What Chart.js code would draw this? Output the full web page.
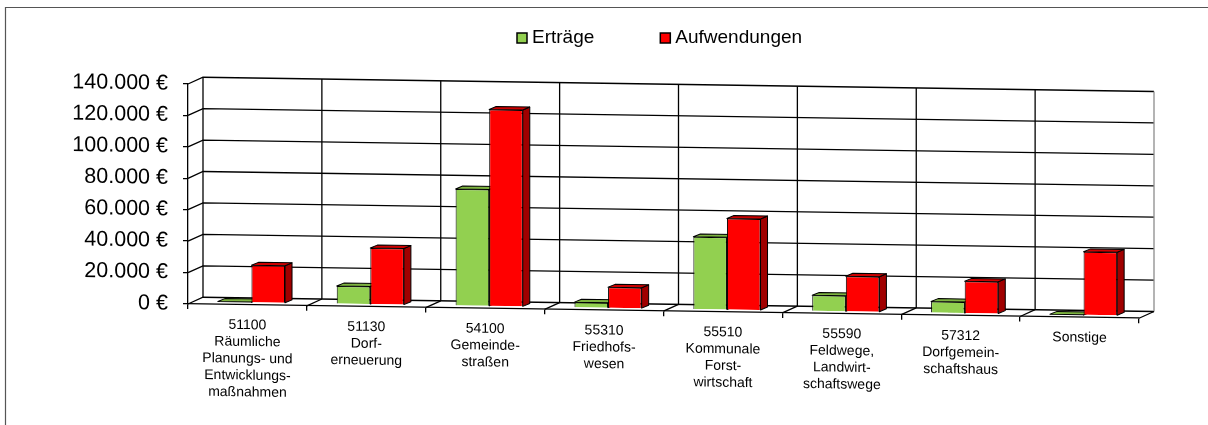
<!DOCTYPE html>
<html>
<head>
<meta charset="utf-8">
<title>Erträge und Aufwendungen</title>
<script src="https://cdn.jsdelivr.net/npm/chart.js@4/dist/chart.umd.min.js"></script>
<style>
  html, body { margin: 0; padding: 0; background: #fff; }
  #wrap { width: 1208px; height: 425px; position: relative; }
  canvas { display: block; }
</style>
</head>
<body>
<div id="wrap"><canvas id="chart" width="1208" height="425"></canvas></div>
<script>
// Produkte (Kostenstellen) with multi-line labels
const categories = [
  ['51100', 'Räumliche', 'Planungs- und', 'Entwicklungs-', 'maßnahmen'],
  ['51130', 'Dorf-', 'erneuerung'],
  ['54100', 'Gemeinde-', 'straßen'],
  ['55310', 'Friedhofs-', 'wesen'],
  ['55510', 'Kommunale', 'Forst-', 'wirtschaft'],
  ['55590', 'Feldwege,', 'Landwirt-', 'schaftswege'],
  ['57312', 'Dorfgemein-', 'schaftshaus'],
  ['Sonstige']
];
const seriesNames = ['Erträge', 'Aufwendungen'];
const ertraege = [600, 11600, 74500, 3600, 46300, 10200, 7400, 300];
const aufwendungen = [24000, 36100, 125400, 13400, 58300, 22700, 20600, 40500];
const yTicks = [0, 20000, 40000, 60000, 80000, 100000, 120000, 140000];

// colours: front, top and side faces of the 3D bars
const faceColors = [
  { front: '#92D050', top: '#7DB340', side: '#5E8A2E' },
  { front: '#FF0000', top: '#CC0000', side: '#A00000' }
];

const FONT = "'Liberation Sans', Arial, sans-serif";
const SHEAR = 0.015;                  // perspective slope of the floor
const WALL = { dx: 15, dy: -7 };      // front edge -> back wall
const BAR_SHIFT = { dx: 4, dy: -2 };  // bars sit a little behind the front edge
const BAR_DEPTH = { dx: 7, dy: -3 };  // thickness of each bar

function euro(v) {
  return String(v).replace(/\B(?=(\d{3})+(?!\d))/g, '.') + ' €';
}

function line(ctx, pts) {
  ctx.beginPath();
  ctx.moveTo(pts[0][0], pts[0][1]);
  for (let i = 1; i < pts.length; i++) ctx.lineTo(pts[i][0], pts[i][1]);
  ctx.stroke();
}

function poly(ctx, pts, fill) {
  ctx.beginPath();
  ctx.moveTo(pts[0][0], pts[0][1]);
  for (let i = 1; i < pts.length; i++) ctx.lineTo(pts[i][0], pts[i][1]);
  ctx.closePath();
  ctx.fillStyle = fill;
  ctx.fill();
  ctx.stroke();
}

const perspective3d = {
  id: 'perspective3d',
  beforeDraw(chart) {
    const ctx = chart.ctx;
    ctx.save();
    ctx.transform(1, SHEAR, 0, 1, 0, -SHEAR * chart.chartArea.left);
  },
  beforeDatasetsDraw(chart) {
    const ctx = chart.ctx;
    const { left, right, top, bottom } = chart.chartArea;
    const yScale = chart.scales.y;
    const n = chart.data.labels.length;
    const step = (right - left) / n;

    // side wall + back wall gridlines
    ctx.save();
    ctx.strokeStyle = '#000';
    ctx.lineWidth = 1.3;
    yTicks.forEach(v => {
      const y = yScale.getPixelForValue(v);
      line(ctx, [[left, y], [left + WALL.dx, y + WALL.dy], [right + WALL.dx, y + WALL.dy]]);
    });
    for (let i = 0; i <= n; i++) {
      const x = left + i * step;
      ctx.strokeStyle = i === n ? '#8c8c8c' : '#000';
      line(ctx, [[x + WALL.dx, top + WALL.dy], [x + WALL.dx, bottom + WALL.dy]]);
      if (i > 0) {
        ctx.strokeStyle = '#000';
        line(ctx, [[x, bottom], [x + WALL.dx, bottom + WALL.dy]]);
      }
    }
    ctx.restore();

    // top and side faces of the bars; the front faces follow from Chart.js
    ctx.save();
    ctx.translate(BAR_SHIFT.dx, BAR_SHIFT.dy);
    ctx.strokeStyle = '#000';
    ctx.lineWidth = 1;
    ctx.lineJoin = 'round';
    const metas = chart.data.datasets.map((d, i) => chart.getDatasetMeta(i));
    for (let j = 0; j < n; j++) {
      metas.forEach((meta, di) => {
        const bar = meta.data[j];
        if (!bar) return;
        const p = bar.getProps(['x', 'y', 'base', 'width'], true);
        const l = p.x - p.width / 2, r = p.x + p.width / 2;
        const t = Math.min(p.y, p.base), b = Math.max(p.y, p.base);
        const c = faceColors[di];
        poly(ctx, [[r, t], [r + BAR_DEPTH.dx, t + BAR_DEPTH.dy], [r + BAR_DEPTH.dx, b + BAR_DEPTH.dy], [r, b]], c.side);
        poly(ctx, [[l, t], [l + BAR_DEPTH.dx, t + BAR_DEPTH.dy], [r + BAR_DEPTH.dx, t + BAR_DEPTH.dy], [r, t]], c.top);
      });
    }
  },
  afterDatasetsDraw(chart) {
    chart.ctx.restore();
  },
  afterDraw(chart) {
    const ctx = chart.ctx;
    ctx.restore();

    // legend
    ctx.save();
    ctx.font = '19px ' + FONT;
    ctx.textBaseline = 'middle';
    ctx.textAlign = 'left';
    let x = 517;
    const y = 38;
    chart.data.datasets.forEach((ds, i) => {
      ctx.fillStyle = ds.backgroundColor;
      ctx.fillRect(x, y - 5, 10, 10);
      ctx.strokeStyle = '#000';
      ctx.lineWidth = 1.5;
      ctx.strokeRect(x, y - 5, 10, 10);
      ctx.fillStyle = '#000';
      ctx.fillText(ds.label, x + 15, y);
      x += 15 + ctx.measureText(ds.label).width + 66;
    });

    // outer frame
    ctx.strokeStyle = '#555';
    ctx.lineWidth = 1.2;
    line(ctx, [[5.5, 425], [5.5, 7.5], [1208, 7.5]]);
    ctx.restore();
  }
};

new Chart(document.getElementById('chart'), {
  type: 'bar',
  data: {
    labels: categories,
    datasets: [
      {
        label: seriesNames[0],
        data: ertraege,
        backgroundColor: faceColors[0].front,
        borderColor: '#000',
        borderWidth: 1,
        categoryPercentage: 0.565,
        barPercentage: 1.0,
        clip: false
      },
      {
        label: seriesNames[1],
        data: aufwendungen,
        backgroundColor: faceColors[1].front,
        borderColor: '#000',
        borderWidth: 1,
        categoryPercentage: 0.565,
        barPercentage: 1.0,
        clip: false
      }
    ]
  },
  options: {
    responsive: false,
    animation: false,
    devicePixelRatio: 1,
    events: [],
    layout: { padding: { top: 84, left: 0, right: 69, bottom: 0 } },
    plugins: {
      legend: { display: false },
      title: { display: false },
      tooltip: { enabled: false }
    },
    scales: {
      x: {
        type: 'category',
        offset: true,
        grid: {
          display: true, drawOnChartArea: false, drawTicks: true,
          tickLength: 5, color: '#000', lineWidth: 1.3, offset: true
        },
        border: { display: true, color: '#000', width: 1.3 },
        ticks: {
          color: '#000', padding: 7, maxRotation: 0, minRotation: 0, autoSkip: false,
          font: { family: FONT, size: 14, lineHeight: 1.2 }
        },
        afterFit(scale) { scale.height = 121; }
      },
      y: {
        min: 0,
        max: 140000,
        afterBuildTicks(scale) { scale.ticks = yTicks.map(v => ({ value: v })); },
        grid: {
          display: true, drawOnChartArea: false, drawTicks: true,
          tickLength: 5, color: '#000', lineWidth: 1.3
        },
        border: { display: true, color: '#000', width: 1.3 },
        ticks: {
          color: '#000', padding: 15,
          font: { family: FONT, size: 21.5 },
          callback: v => euro(v)
        },
        afterFit(scale) { scale.width = 188; }
      }
    }
  },
  plugins: [perspective3d]
});
</script>
</body>
</html>
